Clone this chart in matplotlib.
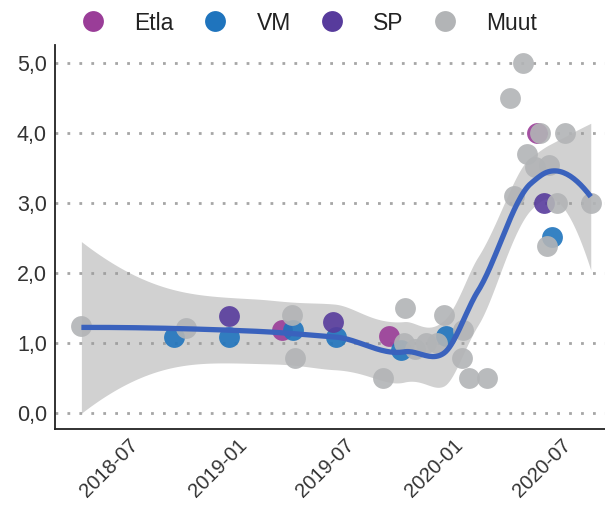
import numpy as np
import pandas as pd
import matplotlib
matplotlib.use("Agg")
import matplotlib.pyplot as plt
import matplotlib.dates as mdates
from matplotlib.lines import Line2D
from matplotlib.transforms import ScaledTranslation

# Forecast points
etla_dates = ["2019-03-09", "2019-09-06", "2020-05-12"]
etla_values = [1.19, 1.10, 4.0]

vm_dates = ["2018-09-07", "2018-12-10", "2019-03-27", "2019-06-08",
            "2019-09-25", "2019-12-10", "2020-06-07"]
vm_values = [1.08, 1.08, 1.19, 1.08, 0.90, 1.10, 2.52]

sp_dates = ["2018-12-10", "2019-06-03", "2020-05-24"]
sp_values = [1.39, 1.30, 3.0]

muut_dates = ["2018-04-04", "2018-09-27", "2019-03-26", "2019-03-31",
              "2019-08-26", "2019-09-30", "2019-10-02", "2019-10-20",
              "2019-11-06", "2019-11-26", "2019-12-07", "2020-01-07",
              "2020-01-09", "2020-01-18", "2020-02-18", "2020-03-28",
              "2020-04-03", "2020-04-19", "2020-04-25", "2020-05-09",
              "2020-05-17", "2020-05-29", "2020-06-01", "2020-06-15",
              "2020-06-28", "2020-08-11"]
muut_values = [1.25, 1.22, 1.40, 0.78,
               0.50, 1.00, 1.50, 0.92,
               1.00, 1.00, 1.40, 0.78,
               1.19, 0.50, 0.50, 4.50,
               3.10, 5.00, 3.70, 3.52,
               4.00, 2.38, 3.54, 3.00,
               4.00, 3.00]

groups = ["Etla", "VM", "SP", "Muut"]
colors = {"Etla": "#9a3d98", "VM": "#1f74bd", "SP": "#573b9c", "Muut": "#b2b4b6"}
tick_dates = ["2018-07-01", "2019-01-01", "2019-07-01", "2020-01-01", "2020-07-01"]
tick_labels = ["2018-07", "2019-01", "2019-07", "2020-01", "2020-07"]


def to_num(d):
    return mdates.date2num(pd.to_datetime(d).to_pydatetime())


def loess_fit(x, y, xs, span=0.72, cell=0.2):
    # loess like R: local quadratic fits at kd-tree vertices,
    # cubic Hermite interpolation in between
    n = len(x)
    q = int(np.floor(n * span))
    fc = int(np.floor(n * span * cell))

    a, b = x.min(), x.max()
    m = 0.005 * (b - a)
    verts = {a - m, b + m}

    def split(lo, hi):
        pts = np.sort(x[(x >= lo) & (x <= hi)])
        if len(pts) <= fc:
            return
        k = len(pts)
        v = pts[k // 2] if k % 2 else (pts[k // 2 - 1] + pts[k // 2]) / 2
        if v <= lo or v >= hi:
            return
        verts.add(v)
        split(lo, v)
        split(v, hi)

    split(a - m, b + m)
    vx = np.array(sorted(verts))

    val, der = [], []
    for x0 in vx:
        d = np.abs(x - x0)
        h = np.sort(d)[q - 1]
        w = np.clip(1 - (d / h) ** 3, 0, None) ** 3
        X = np.column_stack([np.ones(n), x - x0, (x - x0) ** 2])
        A = X.T * w
        sol = np.linalg.solve(A @ X, A)
        val.append(sol[0])
        der.append(sol[1])
    val, der = np.array(val), np.array(der)

    def rows(points):
        i = np.clip(np.searchsorted(vx, points) - 1, 0, len(vx) - 2)
        hh = vx[i + 1] - vx[i]
        t = ((points - vx[i]) / hh)[:, None]
        h00 = 2 * t ** 3 - 3 * t ** 2 + 1
        h10 = t ** 3 - 2 * t ** 2 + t
        h01 = -2 * t ** 3 + 3 * t ** 2
        h11 = t ** 3 - t ** 2
        return (h00 * val[i] + h10 * hh[:, None] * der[i]
                + h01 * val[i + 1] + h11 * hh[:, None] * der[i + 1])

    L = rows(x)
    res = y - L @ y
    M = (np.eye(n) - L).T @ (np.eye(n) - L)
    d1 = np.trace(M)
    d2 = np.trace(M @ M)
    sigma = np.sqrt(np.sum(res ** 2) / d1)
    df = d1 ** 2 / d2
    z = 1.959964
    t = z + (z ** 3 + z) / (4 * df) + (5 * z ** 5 + 16 * z ** 3 + 3 * z) / (96 * df ** 2)
    Ls = rows(xs)
    fit = Ls @ y
    se = sigma * np.sqrt(np.sum(Ls ** 2, axis=1))
    return fit, fit - t * se, fit + t * se


data = {
    "Etla": (etla_dates, etla_values),
    "VM": (vm_dates, vm_values),
    "SP": (sp_dates, sp_values),
    "Muut": (muut_dates, muut_values),
}
all_x = np.concatenate([to_num(data[g][0]) for g in groups])
all_y = np.concatenate([data[g][1] for g in groups]).astype(float)
xs = np.linspace(all_x.min(), all_x.max(), 300)
fit, lo, hi = loess_fit(all_x, all_y, xs)

plt.rcParams["font.family"] = ["Liberation Sans", "DejaVu Sans"]

fig = plt.figure(figsize=(6.05, 5.08), dpi=100)
W, H = 605, 508
ax = fig.add_axes([54.5 / W, (H - 429) / H, (W - 54.5) / W, (429 - 45) / H])

ax.fill_between(xs, lo, hi, color="#999999", alpha=0.45, linewidth=0, zorder=1)
for g in groups:
    ax.scatter(to_num(data[g][0]), data[g][1], s=225, color=colors[g],
               alpha=0.9, linewidths=0, zorder=2)
ax.plot(xs, fit, color="#3a62bd", linewidth=3.8, zorder=3, solid_capstyle="butt")

# axes limits from pixel positions in the reference
x0 = to_num("2018-07-01")
px_per_day = 0.5923
ax.set_xlim(x0 + (54.5 - 133.5) / px_per_day, x0 + (605 - 133.5) / px_per_day)
ax.set_ylim(-16 / 70, 5 + 18 / 70)

ax.set_yticks([0, 1, 2, 3, 4, 5])
ax.set_yticklabels(["0,0", "1,0", "2,0", "3,0", "4,0", "5,0"])
ax.set_xticks(to_num(tick_dates))
ax.set_xticklabels(tick_labels, rotation=45, ha="right", va="top",
                   rotation_mode="anchor")
ax.tick_params(axis="both", length=0, labelcolor="#333333")
ax.tick_params(axis="y", pad=5.5, labelsize=15.5)
ax.tick_params(axis="x", pad=4.5, labelsize=14.5)
shift = ScaledTranslation(-5 / 100, 0, fig.dpi_scale_trans)
for lab in ax.get_xticklabels():
    lab.set_transform(lab.get_transform() + shift)

ax.yaxis.grid(True, color="#a6a6a6", linewidth=2.0, linestyle=(0, (1, 3.3)))
ax.set_axisbelow(True)
for s in ["top", "right"]:
    ax.spines[s].set_visible(False)
for s in ["left", "bottom"]:
    ax.spines[s].set_linewidth(1.3)
    ax.spines[s].set_color("#222222")

handles = [Line2D([], [], marker="o", linestyle="", markersize=15,
                  markerfacecolor=colors[g], markeredgewidth=0, label=g)
           for g in groups]
fig.legend(handles=handles, loc="center", bbox_to_anchor=(309.5 / W, 1 - 23 / H),
           ncol=4, frameon=False, fontsize=16.5, handlelength=1.0,
           handletextpad=1.3, columnspacing=1.3, labelcolor="#222222")

fig.savefig("out.png", dpi=100)
